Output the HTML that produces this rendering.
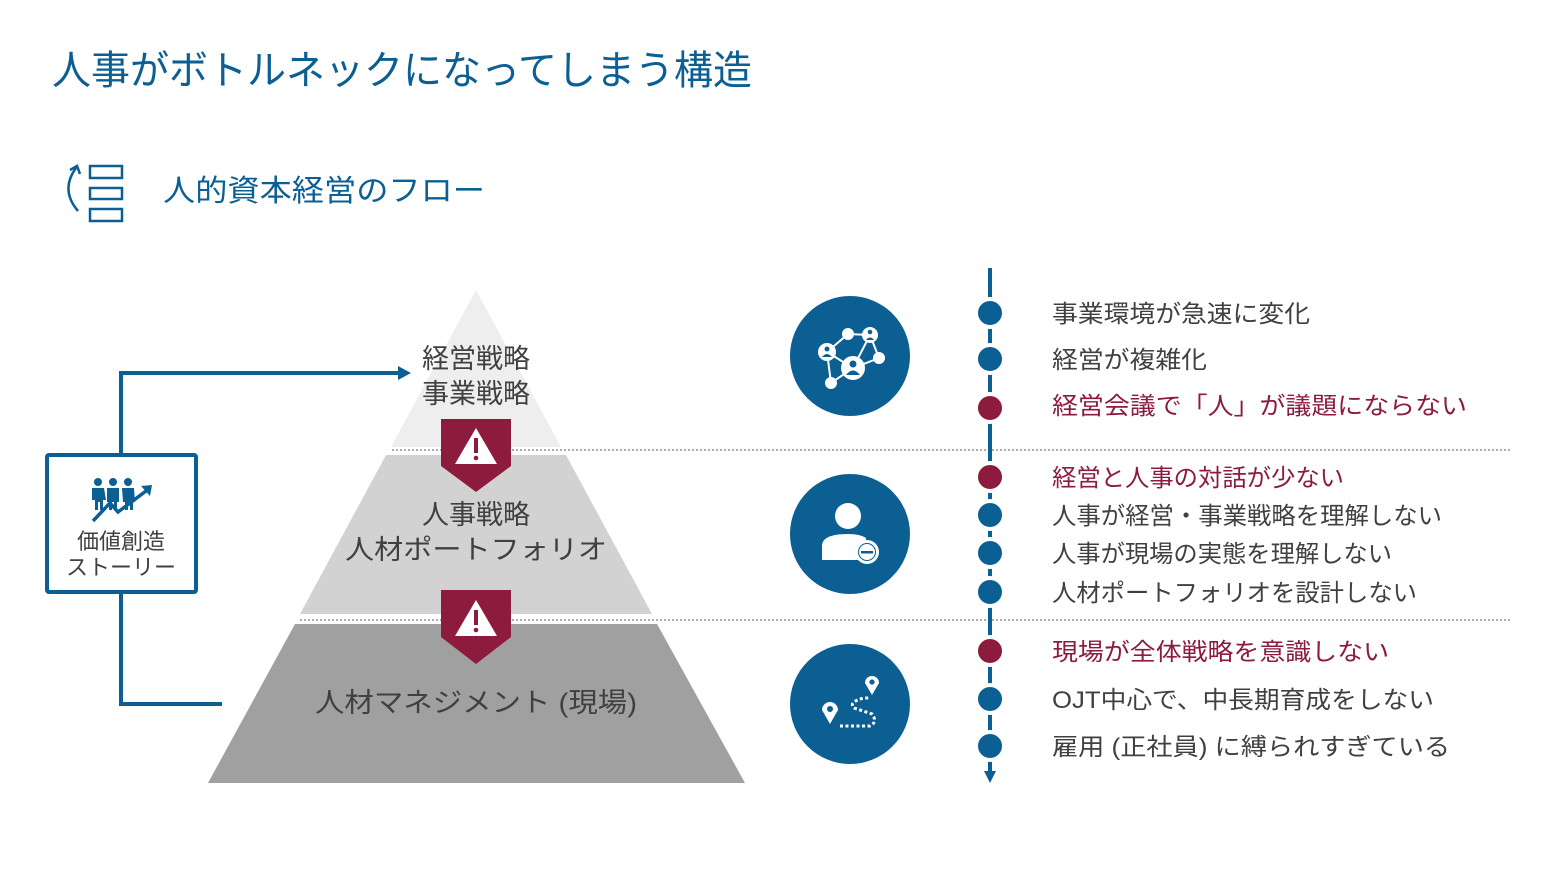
<!DOCTYPE html>
<html><head><meta charset="utf-8"><style>
html,body{margin:0;padding:0;background:#fff;}
svg{display:block;}
text{font-family:"Liberation Sans","Noto Sans CJK JP",sans-serif;}
</style></head><body>
<svg width="1560" height="877" viewBox="0 0 1560 877" xmlns="http://www.w3.org/2000/svg">
<rect width="1560" height="877" fill="#fff"/>
<!-- title -->
<text x="52" y="84" font-size="40" fill="#0b5f93" textLength="700" lengthAdjust="spacingAndGlyphs">人事がボトルネックになってしまう構造</text>
<!-- subtitle icon -->
<g fill="none" stroke="#0b5f93" stroke-width="2.5">
<rect x="90" y="166" width="32" height="12"/>
<rect x="90" y="188" width="32" height="11"/>
<rect x="90" y="209" width="32" height="12"/>
<path d="M78 211 Q60 190 76 168"/>
<path d="M70 170 L77 166 L80 174"/>
</g>
<text x="163" y="201" font-size="30" fill="#0b5f93" textLength="322" lengthAdjust="spacingAndGlyphs">人的資本経営のフロー</text>

<!-- pyramid -->
<polygon points="476,290 561,447 391,447" fill="#eeeeee"/>
<polygon points="386,455 566,455 652,614 300,614" fill="#d2d2d2"/>
<polygon points="295,624 657,624 745,783 208,783" fill="#a0a0a0"/>
<line x1="392" y1="450" x2="1512" y2="450" stroke="#777" stroke-width="1.2" stroke-dasharray="2,2"/>
<line x1="300" y1="620" x2="1512" y2="620" stroke="#777" stroke-width="1.2" stroke-dasharray="2,2"/>

<text x="476" y="368" font-size="27" fill="#404040" text-anchor="middle">経営戦略</text>
<text x="476" y="403" font-size="27" fill="#404040" text-anchor="middle">事業戦略</text>
<text x="476" y="524" font-size="27" fill="#404040" text-anchor="middle">人事戦略</text>
<text x="476" y="559" font-size="27" fill="#404040" text-anchor="middle" textLength="262" lengthAdjust="spacingAndGlyphs">人材ポートフォリオ</text>
<text x="476" y="712" font-size="27" fill="#404040" text-anchor="middle" textLength="322" lengthAdjust="spacingAndGlyphs">人材マネジメント (現場)</text>

<!-- warning shields -->
<g>
<polygon points="441,419 511,419 511,466 476,492 441,466" fill="#8c1b3d"/>
<polygon points="476,428 497,464 455,464" fill="#fff"/>
<rect x="474" y="438" width="4" height="15" fill="#8c1b3d"/>
<circle cx="476" cy="458" r="2.3" fill="#8c1b3d"/>
</g>
<g>
<polygon points="441,590 511,590 511,637 476,664 441,637" fill="#8c1b3d"/>
<polygon points="476,600 497,636 455,636" fill="#fff"/>
<rect x="474" y="610" width="4" height="15" fill="#8c1b3d"/>
<circle cx="476" cy="630" r="2.3" fill="#8c1b3d"/>
</g>

<!-- left connectors and box -->
<g fill="none" stroke="#0b5f93" stroke-width="4">
<polyline points="121,454 121,373 400,373"/>
<polyline points="121,593 121,704 222,704"/>
<rect x="47" y="455" width="149" height="137" rx="2"/>
</g>
<polygon points="398,366 411,373 398,380" fill="#0b5f93"/>
<!-- people icon -->
<g fill="#0b5f93">
<circle cx="98" cy="482" r="4"/><circle cx="113" cy="482" r="4"/><circle cx="128" cy="482" r="4"/>
<path d="M92 488 h12 l2 12 h-3 v10 h-3 v-8 h-2 v8 h-3 v-10 h-3z"/>
<path d="M107 488 h12 v14 h-2 v8 h-3 v-8 h-2 v8 h-3 v-8 h-2z"/>
<path d="M122 488 h12 l1 14 h-2 v8 h-3 v-8 h-2 v8 h-3 v-8 h-2z"/>
</g>
<polyline points="93,521 110,503 118,512 146,491" fill="none" stroke="#0b5f93" stroke-width="3.5"/>
<polygon points="141,486 152,485 150,496" fill="#0b5f93"/>
<text x="121" y="549" font-size="22" fill="#404040" text-anchor="middle">価値創造</text>
<text x="121" y="575" font-size="22" fill="#404040" text-anchor="middle">ストーリー</text>

<!-- circles -->
<circle cx="850" cy="356" r="60" fill="#0b5f93"/>
<circle cx="850" cy="534" r="60" fill="#0b5f93"/>
<circle cx="850" cy="704" r="60" fill="#0b5f93"/>
<!-- network icon -->
<g stroke="#fff" stroke-width="2" fill="none">
<polyline points="827,352 848,334 870,335 879,358 853,368 827,352"/>
<line x1="870" y1="335" x2="853" y2="368"/><line x1="853" y1="368" x2="831" y2="383"/><line x1="827" y1="352" x2="831" y2="383"/>
</g>
<g fill="#fff">
<circle cx="827" cy="352" r="9"/><circle cx="848" cy="334" r="6"/><circle cx="870" cy="335" r="8"/><circle cx="879" cy="358" r="6"/><circle cx="853" cy="368" r="12"/><circle cx="831" cy="383" r="6"/>
</g>
<g fill="#0b5f93">
<circle cx="827" cy="349" r="2.5"/><path d="M822 357 q5 -6 10 0z"/>
<circle cx="853" cy="364" r="3.5"/><path d="M846 375 q7 -9 14 0z"/>
<circle cx="870" cy="332" r="2.3"/><path d="M866 340 q4 -5 8 0z"/>
</g>
<!-- person minus -->
<g fill="#fff">
<circle cx="848" cy="516" r="13"/>
<path d="M822 560 v-14 q0 -12 26 -12 q12 0 18 4 v22z"/>
<circle cx="867" cy="552" r="12"/>
</g>
<circle cx="867" cy="552" r="9" fill="#0b5f93"/>
<circle cx="867" cy="552" r="8" fill="#fff"/>
<rect x="861" y="551" width="12" height="2.5" fill="#0b5f93"/>
<!-- map path -->
<g fill="#fff">
<path d="M830 724 l-8 -14 a8 8 0 1 1 16 0z"/>
<path d="M872 695 l-7 -12 a7 7 0 1 1 14 0z"/>
</g>
<circle cx="830" cy="709" r="3" fill="#0b5f93"/><circle cx="872" cy="682" r="2.6" fill="#0b5f93"/>
<path d="M840 726 h30 q8 -4 2 -12 l-18 -6 q-6 -6 10 -10 h6" fill="none" stroke="#fff" stroke-width="3" stroke-dasharray="3,2.5"/>

<!-- timeline -->
<line x1="990" y1="268" x2="990" y2="775" stroke="#0b5f93" stroke-width="4"/>
<polygon points="984,771 996,771 990,783" fill="#0b5f93"/>
<g stroke="#fff" stroke-width="4">
<circle cx="990" cy="313" r="14" fill="#0b5f93"/>
<circle cx="990" cy="359" r="14" fill="#0b5f93"/>
<circle cx="990" cy="408" r="14" fill="#8c1b3d"/>
<circle cx="990" cy="477" r="14" fill="#8c1b3d"/>
<circle cx="990" cy="515" r="14" fill="#0b5f93"/>
<circle cx="990" cy="553" r="14" fill="#0b5f93"/>
<circle cx="990" cy="592" r="14" fill="#0b5f93"/>
<circle cx="990" cy="651" r="14" fill="#8c1b3d"/>
<circle cx="990" cy="699" r="14" fill="#0b5f93"/>
<circle cx="990" cy="746" r="14" fill="#0b5f93"/>
</g>
<g font-size="24">
<text x="1052" y="322" fill="#404040" textLength="258" lengthAdjust="spacingAndGlyphs">事業環境が急速に変化</text>
<text x="1052" y="368" fill="#404040" textLength="155" lengthAdjust="spacingAndGlyphs">経営が複雑化</text>
<text x="1052" y="414" fill="#8c1b3d" textLength="415" lengthAdjust="spacingAndGlyphs">経営会議で「人」が議題にならない</text>
<text x="1052" y="486" fill="#8c1b3d" textLength="292" lengthAdjust="spacingAndGlyphs">経営と人事の対話が少ない</text>
<text x="1052" y="524" fill="#404040" textLength="390" lengthAdjust="spacingAndGlyphs">人事が経営・事業戦略を理解しない</text>
<text x="1052" y="562" fill="#404040" textLength="340" lengthAdjust="spacingAndGlyphs">人事が現場の実態を理解しない</text>
<text x="1052" y="601" fill="#404040" textLength="365" lengthAdjust="spacingAndGlyphs">人材ポートフォリオを設計しない</text>
<text x="1052" y="660" fill="#8c1b3d" textLength="337" lengthAdjust="spacingAndGlyphs">現場が全体戦略を意識しない</text>
<text x="1052" y="708" fill="#404040" textLength="382" lengthAdjust="spacingAndGlyphs">OJT中心で、中長期育成をしない</text>
<text x="1052" y="755" fill="#404040" textLength="398" lengthAdjust="spacingAndGlyphs">雇用 (正社員) に縛られすぎている</text>
</g>
</svg>
</body></html>
